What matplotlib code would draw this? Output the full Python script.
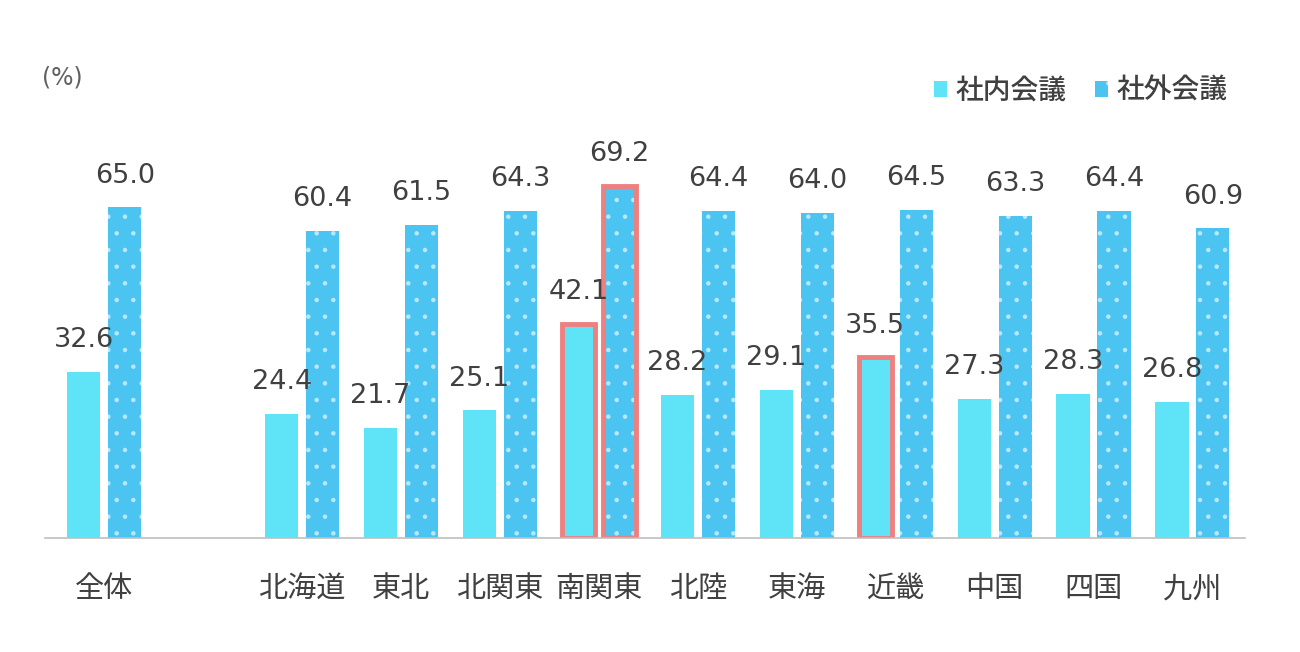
import matplotlib.pyplot as plt
import numpy as np

plt.rcParams['font.family'] = ['Noto Sans CJK JP', 'DejaVu Sans']
plt.rcParams['hatch.color'] = '#b9e8fb'
plt.rcParams['hatch.linewidth'] = 0.8

regions = ['全体', '北海道', '東北', '北関東', '南関東', '北陸', '東海', '近畿', '中国', '四国', '九州']
naibu = [32.6, 24.4, 21.7, 25.1, 42.1, 28.2, 29.1, 35.5, 27.3, 28.3, 26.8]
gaibu = [65.0, 60.4, 61.5, 64.3, 69.2, 64.4, 64.0, 64.5, 63.3, 64.4, 60.9]
# highlighted bars (region, series)
highlight_naibu = ['南関東', '近畿']
highlight_gaibu = ['南関東']

pos = np.array([0] + list(range(2, 12)), dtype=float)
w = 0.335
off = 0.207

c_in = '#5fe3f7'
c_out = '#4cc4f2'
c_hl = '#ee8080'
c_txt = '#404040'

fig = plt.figure(figsize=(13, 6.52), dpi=100)
ax = fig.add_axes([0.0346, 0.1748, 0.923, 0.624])

b1 = ax.bar(pos - off, naibu, w, color=c_in, linewidth=0, label='社内会議')
b2 = ax.bar(pos + off, gaibu, w, color=c_out, linewidth=0, hatch='.', label='社外会議')

for i, r in enumerate(regions):
    if r in highlight_naibu:
        ax.bar(pos[i] - off, naibu[i], w, fill=False, edgecolor=c_hl, linewidth=3.5)
    if r in highlight_gaibu:
        ax.bar(pos[i] + off, gaibu[i], w, fill=False, edgecolor=c_hl, linewidth=3.5)

for x, v in zip(pos - off, naibu):
    ax.text(x, v + 3.7, f'{v:.1f}', ha='center', va='bottom', fontsize=19.5,
            color=c_txt, family='DejaVu Sans')
for x, v in zip(pos + off, gaibu):
    ax.text(x, v + 3.7, f'{v:.1f}', ha='center', va='bottom', fontsize=19.5,
            color=c_txt, family='DejaVu Sans')

ax.set_xlim(-0.6, 11.53)
ax.set_ylim(0, 80)
ax.set_xticks(pos)
ax.set_xticklabels(regions, fontsize=21, color=c_txt)
ax.tick_params(axis='x', length=0, pad=26)
ax.set_yticks([])
for s in ['top', 'right', 'left']:
    ax.spines[s].set_visible(False)
ax.spines['bottom'].set_color('#bfbfbf')
ax.spines['bottom'].set_linewidth(1.2)

fig.text(0.032, 0.87, '(%)', fontsize=17, color='#606060', family='DejaVu Sans')

ax.legend(handles=[b1, b2], loc='center right', bbox_to_anchor=(0.995, 1.10), ncol=2,
          frameon=False, prop={'size': 20, 'weight': 'medium'}, handlelength=0.5,
          handleheight=0.5, handletextpad=0.3, columnspacing=1.0, labelcolor=c_txt,
          borderaxespad=0)

fig.savefig('out.png', dpi=100, facecolor='white')
